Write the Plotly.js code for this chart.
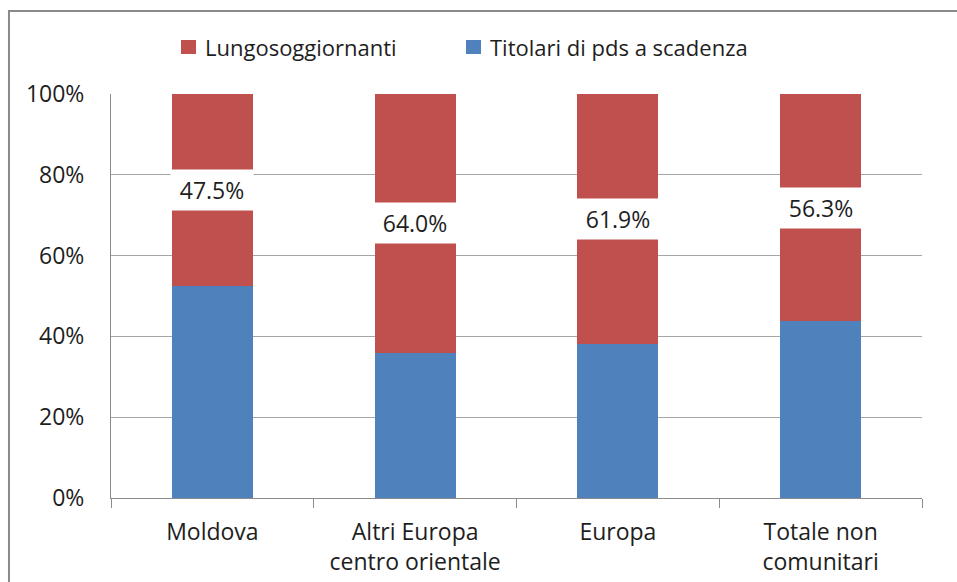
<!DOCTYPE html>
<html>
<head>
<meta charset="utf-8">
<script src="https://cdn.plot.ly/plotly-3.0.1.min.js"></script>
<style>html,body{margin:0;padding:0;background:#fff;}#chart{width:957px;height:582px;}</style>
</head>
<body>
<div id="chart"></div>
<script>
var categories = ["Moldova", "Altri Europa<br>centro orientale", "Europa", "Totale non<br>comunitari"];
var titolari = [52.5, 36.0, 38.1, 43.7];
var lungo = [47.5, 64.0, 61.9, 56.3];
var lungoLabels = ["47.5%", "64.0%", "61.9%", "56.3%"];
var seriesNames = ["Lungosoggiornanti", "Titolari di pds a scadenza"];
var seriesColors = ["#C0504D", "#4F81BD"];

var FONT = "Open Sans, Noto Sans, Liberation Sans, sans-serif";
var TXT = "#1e1e1e";

var traces = [
  {type: "bar", name: seriesNames[1], x: categories, y: titolari,
   marker: {color: seriesColors[1]}, hoverinfo: "skip", showlegend: false},
  {type: "bar", name: seriesNames[0], x: categories, y: lungo,
   marker: {color: seriesColors[0]}, hoverinfo: "skip", showlegend: false}
];

var annotations = categories.map(function (c, i) {
  return {
    x: c, y: titolari[i] + lungo[i] / 2, xref: "x", yref: "y",
    text: lungoLabels[i], showarrow: false,
    bgcolor: "#ffffff", width: 80, height: 38, borderpad: 1,
    font: {family: FONT, size: 23, color: TXT}
  };
});

// custom legend (paper coords: x=(px-111)/811, y=(498-py)/404)
function px2x(p) { return (p - 111) / 811; }
function py2y(p) { return (498 - p) / 404; }
var legendTextX = [203, 488];
var legendBoxX = [181, 466];
var shapes = [];
for (var k = 0; k < 2; k++) {
  annotations.push({xref: "paper", yref: "paper", x: px2x(legendTextX[k]), y: py2y(47),
    xanchor: "left", yanchor: "middle", text: seriesNames[k], showarrow: false,
    font: {family: FONT, size: 22, color: TXT}});
  shapes.push({type: "rect", xref: "paper", yref: "paper",
    x0: px2x(legendBoxX[k]), x1: px2x(legendBoxX[k] + 15), y0: py2y(54), y1: py2y(40),
    line: {width: 0}, fillcolor: seriesColors[k]});
}
shapes.push({type: "rect", xref: "paper", yref: "paper",
  x0: -0.1258, x1: 1.2, y0: -0.3, y1: 1.2054,
  line: {color: "#8a8a8a", width: 2}, fillcolor: "rgba(0,0,0,0)", layer: "above"});

var layout = {
  width: 957, height: 582,
  margin: {l: 111, r: 35, t: 94, b: 84, pad: 0},
  paper_bgcolor: "#ffffff", plot_bgcolor: "#ffffff",
  barmode: "stack", bargap: 0.6,
  font: {family: FONT, size: 22, color: TXT},
  showlegend: false,
  xaxis: {type: "category", showline: true, linecolor: "#8c8c8c", linewidth: 1,
          ticks: "outside", tickson: "boundaries", ticklen: 9, tickcolor: "#8c8c8c",
          ticklabelstandoff: 13,
          showgrid: false, tickfont: {family: FONT, size: 23, color: TXT},
          fixedrange: true},
  yaxis: {range: [0, 100], tickvals: [0, 20, 40, 60, 80, 100],
          ticktext: ["0%", "20%", "40%", "60%", "80%", "100%"],
          showline: true, linecolor: "#8c8c8c", linewidth: 1,
          showgrid: true, gridcolor: "#a6a6a6", gridwidth: 1,
          zeroline: false, ticks: "", ticklabelstandoff: 21,
          tickfont: {family: FONT, size: 23, color: TXT}, fixedrange: true},
  annotations: annotations,
  shapes: shapes
};

Plotly.newPlot("chart", traces, layout, {displayModeBar: false, staticPlot: true});
</script>
</body>
</html>
